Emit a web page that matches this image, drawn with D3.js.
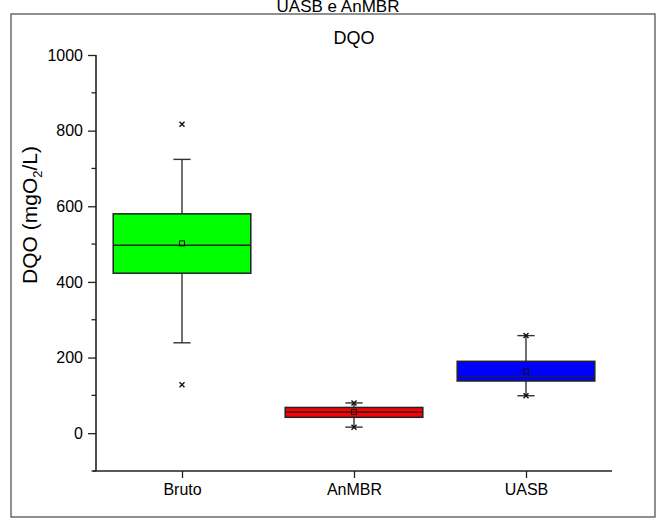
<!DOCTYPE html>
<html>
<head>
<meta charset="utf-8">
<script src="https://cdn.jsdelivr.net/npm/d3@7"></script>
<style>
  html, body { margin: 0; padding: 0; background: #fff; }
  svg { display: block; font-family: "Liberation Sans", Arial, sans-serif; }
</style>
</head>
<body>
<svg id="chart" width="665" height="527"></svg>
<script>
// Box statistics for COD (DQO) by sample point
const categories = ["Bruto", "AnMBR", "UASB"];
const q1Values = [423, 42, 138];
const medianValues = [497, 56, 150];
const q3Values = [580, 68, 190];
const meanValues = [502, 56, 163];
const whiskerLow = [239, 16, 99];
const whiskerHigh = [724, 80, 258];
const extremeLow = [128, 16, 99];
const extremeHigh = [817, 80, 258];
const boxColors = ["#00ff00", "#ff0000", "#0000ff"];
const yMajorTicks = [0, 200, 400, 600, 800, 1000];
const yMinorTicks = [-100, 100, 300, 500, 700, 900];

const svg = d3.select("#chart");

// outer frame
svg.append("rect")
  .attr("x", 11).attr("y", 14)
  .attr("width", 644).attr("height", 503)
  .attr("fill", "none").attr("stroke", "#555").attr("stroke-width", 1.3);

// page title above the frame
svg.append("text")
  .attr("x", 338).attr("y", 12)
  .attr("text-anchor", "middle")
  .attr("font-size", 17)
  .text("UASB e AnMBR");

const plot = { left: 96, right: 612, top: 55, bottom: 471 };

const x = d3.scaleLinear().domain([0.5, 3.5]).range([plot.left, plot.right]);
const y = d3.scaleLinear().domain([-100, 1000]).range([plot.bottom, plot.top]);

// chart title
svg.append("text")
  .attr("x", (plot.left + plot.right) / 2).attr("y", 44)
  .attr("text-anchor", "middle")
  .attr("font-size", 18)
  .text("DQO");

// y axis
const yAxis = svg.append("g")
  .attr("transform", `translate(${plot.left},0)`)
  .call(d3.axisLeft(y).tickValues(yMajorTicks).tickSize(8).tickPadding(5).tickFormat(d3.format("d")));
yAxis.select(".domain").attr("d", `M0,${plot.bottom}V${plot.top}`);
svg.append("g")
  .attr("transform", `translate(${plot.left},0)`)
  .selectAll("line").data(yMinorTicks).join("line")
  .attr("x1", -4.5).attr("x2", 0)
  .attr("y1", d => y(d)).attr("y2", d => y(d))
  .attr("stroke", "#222").attr("stroke-width", 1.3);

// x axis
const xAxis = svg.append("g")
  .attr("transform", `translate(0,${plot.bottom})`)
  .call(d3.axisBottom(x).tickValues([1, 2, 3]).tickSize(7).tickPadding(6)
    .tickFormat(d => categories[d - 1]));
xAxis.select(".domain").attr("d", `M${plot.left - 3},0H${plot.right}`);

[yAxis, xAxis].forEach(g => {
  g.select(".domain").attr("stroke", "#222").attr("stroke-width", 1.6);
  g.selectAll(".tick line").attr("stroke", "#222").attr("stroke-width", 1.3);
  g.selectAll(".tick text").attr("font-size", 16).attr("fill", "#000")
    .attr("font-family", "Liberation Sans, Arial, sans-serif");
});

// y axis title with subscript
const yTitle = svg.append("text")
  .attr("transform", `translate(37,${(plot.top + plot.bottom) / 2 - 48}) rotate(-90)`)
  .attr("text-anchor", "middle")
  .attr("font-size", 21);
yTitle.append("tspan").text("DQO (mgO");
yTitle.append("tspan").attr("font-size", 13).attr("dy", 5).text("2");
yTitle.append("tspan").attr("dy", -5).text("/L)");

// boxes
const boxHalf = 0.4;
const capHalf = 0.05;
const groups = svg.append("g").selectAll("g").data(categories).join("g");

groups.append("line")
  .attr("x1", (d, i) => x(i + 1)).attr("x2", (d, i) => x(i + 1))
  .attr("y1", (d, i) => y(whiskerHigh[i])).attr("y2", (d, i) => y(q3Values[i]))
  .attr("stroke", "#222").attr("stroke-width", 1.3);
groups.append("line")
  .attr("x1", (d, i) => x(i + 1)).attr("x2", (d, i) => x(i + 1))
  .attr("y1", (d, i) => y(q1Values[i])).attr("y2", (d, i) => y(whiskerLow[i]))
  .attr("stroke", "#222").attr("stroke-width", 1.3);
[whiskerHigh, whiskerLow].forEach(arr => {
  groups.append("line")
    .attr("x1", (d, i) => x(i + 1 - capHalf)).attr("x2", (d, i) => x(i + 1 + capHalf))
    .attr("y1", (d, i) => y(arr[i])).attr("y2", (d, i) => y(arr[i]))
    .attr("stroke", "#333").attr("stroke-width", 1.4);
});

groups.append("rect")
  .attr("x", (d, i) => x(i + 1 - boxHalf))
  .attr("width", (d, i) => x(i + 1 + boxHalf) - x(i + 1 - boxHalf))
  .attr("y", (d, i) => y(q3Values[i]))
  .attr("height", (d, i) => y(q1Values[i]) - y(q3Values[i]))
  .attr("fill", (d, i) => boxColors[i])
  .attr("stroke", "#222").attr("stroke-width", 1.5);
groups.append("line")
  .attr("x1", (d, i) => x(i + 1 - boxHalf)).attr("x2", (d, i) => x(i + 1 + boxHalf))
  .attr("y1", (d, i) => y(medianValues[i])).attr("y2", (d, i) => y(medianValues[i]))
  .attr("stroke", "#222").attr("stroke-width", 1.3);

// mean markers
groups.append("rect")
  .attr("x", (d, i) => x(i + 1) - 2.5).attr("y", (d, i) => y(meanValues[i]) - 2.5)
  .attr("width", 5).attr("height", 5)
  .attr("fill", "none").attr("stroke", "#111").attr("stroke-width", 1);

// extreme markers (x)
[extremeHigh, extremeLow].forEach(arr => {
  groups.append("path")
    .attr("d", (d, i) => {
      const cx = x(i + 1), cy = y(arr[i]), s = 2.5;
      return `M${cx - s},${cy - s}L${cx + s},${cy + s}M${cx - s},${cy + s}L${cx + s},${cy - s}`;
    })
    .attr("stroke", "#111").attr("stroke-width", 1.4);
});
</script>
</body>
</html>
